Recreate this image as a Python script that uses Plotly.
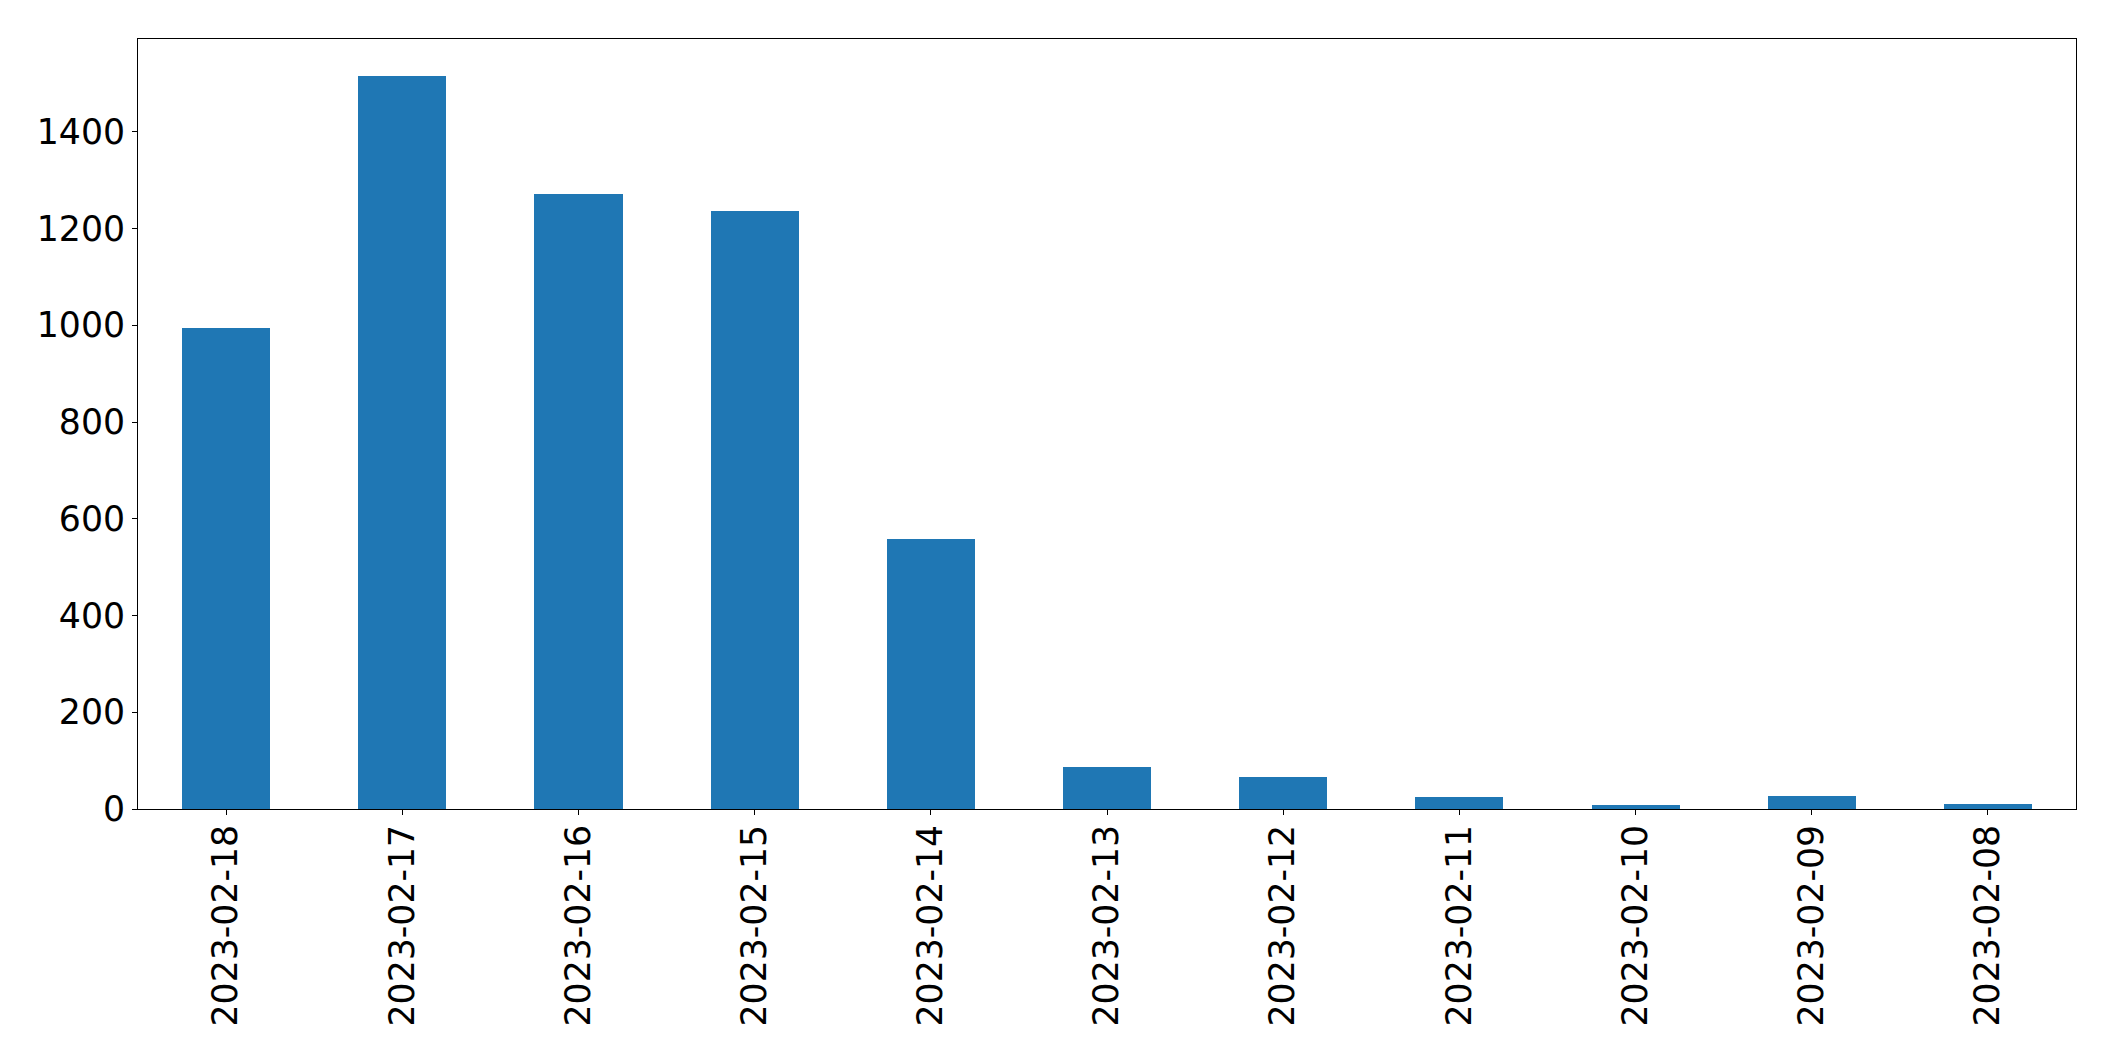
import plotly.graph_objects as go

dates = ["2023-02-18", "2023-02-17", "2023-02-16", "2023-02-15", "2023-02-14",
         "2023-02-13", "2023-02-12", "2023-02-11", "2023-02-10", "2023-02-09", "2023-02-08"]
counts = [995, 1516, 1272, 1237, 558, 87, 67, 25, 9, 27, 11]
y_ticks = [0, 200, 400, 600, 800, 1000, 1200, 1400]

FONT = "DejaVu Sans"
FSIZE = 34.7

fig = go.Figure(
    go.Bar(
        x=dates,
        y=counts,
        width=0.5,
        marker=dict(color="#1f77b4", line=dict(width=0)),
    )
)

fig.update_layout(
    width=2115,
    height=1061,
    margin=dict(l=130, r=47, t=31, b=260, pad=0),
    paper_bgcolor="white",
    plot_bgcolor="white",
    showlegend=False,
    font=dict(family=FONT, size=FSIZE, color="black"),
    bargap=0,
)

fig.update_xaxes(
    type="category",
    range=[-0.5, len(dates) - 0.5],
    tickangle=-90,
    ticks="outside",
    ticklen=5,
    tickwidth=1,
    tickcolor="black",
    showline=True,
    linecolor="black",
    linewidth=1,
    mirror=True,
    showgrid=False,
    zeroline=False,
    tickfont=dict(family=FONT, size=FSIZE, color="black"),
    ticklabelstandoff=-4,
)

fig.update_yaxes(
    range=[0, max(counts) * 1.05],
    tickvals=y_ticks,
    ticktext=[str(v) for v in y_ticks],
    ticks="outside",
    ticklen=5,
    tickwidth=1,
    tickcolor="black",
    showline=True,
    linecolor="black",
    linewidth=1,
    mirror=True,
    showgrid=False,
    zeroline=False,
    tickfont=dict(family=FONT, size=FSIZE, color="black"),
    ticklabelstandoff=0,
)

fig.write_html("out.html")
